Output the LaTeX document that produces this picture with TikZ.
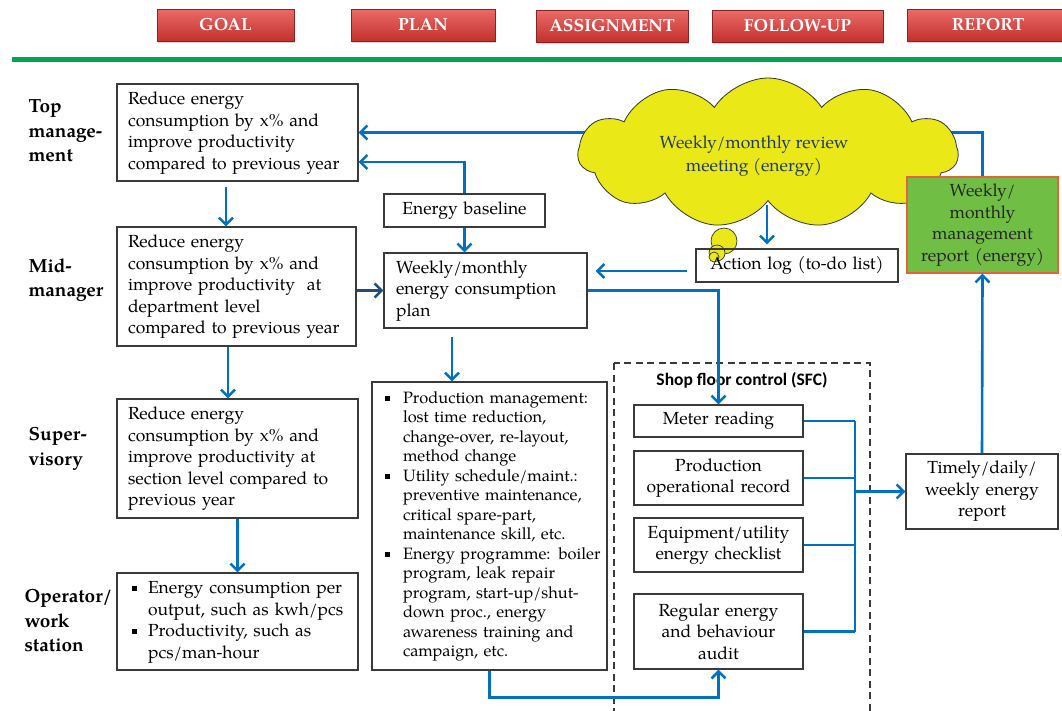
\documentclass[tikz,border=0pt]{standalone}
\usepackage{fontspec}
\setmainfont{TeX Gyre Pagella}
\newfontfamily\sfcfont{Carlito}
\usetikzlibrary{arrows.meta,shapes.symbols,shadows,backgrounds}

\definecolor{flowblue}{HTML}{0070C0}
\definecolor{navyflow}{HTML}{1F4E79}
\definecolor{btnred}{HTML}{E53935}
\definecolor{rulegreen}{HTML}{00A650}
\definecolor{cloudyellow}{HTML}{EBE817}
\definecolor{reportgreen}{HTML}{70BF44}
\definecolor{reportedge}{HTML}{E8603C}
\definecolor{cloudtext}{HTML}{1F3A68}
\definecolor{boxline}{HTML}{3A3A3A}

\newcommand{\bodyfs}{\fontsize{17.5}{21.5}\selectfont}
\newcommand{\smallfs}{\fontsize{16.4}{19.5}\selectfont}
\newcommand{\lblfs}{\fontsize{19}{24.5}\selectfont\bfseries}
\newcommand{\lines}[1]{\noindent\begin{tabular}{@{}l@{}}#1\end{tabular}}
\newcommand{\blines}[1]{\noindent\begin{tabular}{@{}l@{}l@{}}#1\end{tabular}}
\newcommand{\sqb}[1][16pt]{\makebox[#1][l]{\raisebox{2.5pt}{\rule{5pt}{5pt}}}}

\tikzset{
  box/.style={draw=boxline, line width=1.1pt, inner xsep=0pt, inner ysep=2pt, font=\bodyfs},
  leftbox/.style={box, align=left},
  midbox/.style={box, align=center},
  lvl/.style={anchor=west, align=left, font=\lblfs},
  btn/.style={minimum height=32pt, font=\fontsize{17.5}{19}\selectfont\bfseries, text=white,
    top color=btnred!75!white, bottom color=btnred!85!black, draw=btnred!60!black, line width=0.6pt,
    drop shadow={shadow xshift=1pt, shadow yshift=-2pt, opacity=0.35}},
  flow/.style={draw=flowblue, line width=2.6pt, -{Straight Barb[length=7pt,width=14pt]}},
  link/.style={draw=flowblue, line width=2.6pt},
}

\begin{document}
\begin{tikzpicture}[x=1pt,y=-1pt]
  \useasboundingbox (0,0) rectangle (1062,710);
  \node[btn, minimum width=137pt] (goalbtn) at (225.5,25) {GOAL};
  \node[btn, minimum width=144pt] (planbtn) at (423,25) {PLAN};
  \node[btn, minimum width=152pt] (assignbtn) at (612,26) {ASSIGNMENT};
  \node[btn, minimum width=171pt] (followbtn) at (797.5,26) {FOLLOW-UP};
  \node[btn, minimum width=162pt] (reportbtn) at (988,25) {REPORT};
  \draw[rulegreen, line width=4.5pt] (12,59.5) -- (1062,59.5);

  \node[lvl] (toplbl) at (25,131) {Top\\manage-\\ment};
  \node[lvl] (midlbl) at (25,280) {Mid-\\manager};
  \node[lvl] (suplbl) at (25,449) {Super-\\visory};
  \node[lvl] (oplbl) at (21,621) {Operator/\\work\\station};

  \node[leftbox, minimum width=241pt, minimum height=97pt, text width=219pt] (topgoal) at (237.5,132.5)
    {\lines{Reduce energy\\consumption by x\% and\\improve productivity\\compared to previous year}};
  \node[leftbox, minimum width=239pt, minimum height=119pt, text width=217pt] (midgoal) at (236.5,286.5)
    {\lines{Reduce energy\\consumption by x\% and\\improve productivity~ at\\department level\\compared to previous year}};
  \node[leftbox, minimum width=241pt, minimum height=119pt, text width=219pt] (supgoal) at (237.5,458.5)
    {\lines{Reduce energy\\consumption by x\% and\\improve productivity at\\section level compared to\\previous year}};
  \node[leftbox, minimum width=241pt, minimum height=97pt, text width=211pt] (opbox) at (237.5,621.5)
    {\blines{\sqb & Energy consumption per\\ & output, such as kwh/pcs\\
             \sqb & Productivity, such as\\ & pcs/man-hour}};

  \node[midbox, minimum width=161pt, minimum height=33pt, text width=155pt] (baseline) at (464.5,210.5) {Energy baseline};
  \node[leftbox, minimum width=203pt, minimum height=75pt, text width=179pt] (plan) at (485.5,290.5)
    {\lines{Weekly/monthly\\energy consumption\\plan}};
  \node[leftbox, font=\smallfs, minimum width=235pt, minimum height=288pt, text width=209pt] (bullets) at (489.5,526)
    {\blines{\sqb[18pt] & Production management:\\ & lost time reduction,\\ & change-over, re-layout,\\ & method change\\
             \sqb[18pt] & Utility schedule/maint.:\\ & preventive maintenance,\\ & critical spare-part,\\ & maintenance skill, etc.\\
             \sqb[18pt] & Energy programme: boiler\\ & program, leak repair\\ & program, start-up/shut-\\ & down proc., energy\\
             & awareness training and\\ & campaign, etc.}};

  \node[cloud, cloud puffs=11, cloud puff arc=115, aspect=2.5, cloud ignores aspect,
    minimum width=380pt, minimum height=150pt, draw=black!80, fill=cloudyellow, line width=0.8pt] (meeting) at (768,153) {};
  \node[font=\fontsize{17.5}{22.5}\selectfont, text=cloudtext, align=center] (meettxt) at (754,156) {Weekly/monthly review\\meeting (energy)};
  \draw[draw=black!80, fill=cloudyellow, line width=0.7pt] (724,241) circle[radius=13pt];
  \draw[draw=black!80, fill=cloudyellow, line width=0.7pt] (717,253) circle[radius=8pt];
  \draw[draw=black!80, fill=cloudyellow, line width=0.7pt] (714,257) circle[radius=5pt];
  \node[midbox, minimum width=202pt, minimum height=33pt, text width=196pt] (actlog) at (797,265.5) {Action log (to-do list)};
  \node[midbox, minimum width=151pt, minimum height=96pt, text width=145pt, fill=reportgreen, draw=reportedge,
    text=black!85] (mreport) at (982.5,225) {Weekly/\\monthly\\management\\report (energy)};

  \draw[boxline, line width=1.2pt, dash pattern=on 7pt off 4.5pt] (614,363) rectangle (870,725);
  \node[font=\sfcfont\fontsize{17.5}{19}\selectfont\bfseries] (sfctitle) at (742,380) {Shop floor control (SFC)};
  \node[midbox, minimum width=169pt, minimum height=32pt, text width=163pt] (meter) at (718.5,421) {Meter reading};
  \node[midbox, minimum width=169pt, minimum height=54pt, text width=163pt] (prodrec) at (718.5,478) {Production\\operational record};
  \node[midbox, minimum width=169pt, minimum height=54pt, text width=163pt] (equip) at (718.5,545) {Equipment/utility\\energy checklist};
  \node[midbox, minimum width=169pt, minimum height=75pt, text width=163pt] (audit) at (718.5,631.5) {Regular energy\\and behaviour\\audit};
  \node[midbox, minimum width=152pt, minimum height=75pt, text width=146pt] (timely) at (982,491.5) {Timely/daily/\\weekly energy\\report};

  \coordinate (mtail) at (767,205);
  \coordinate (ptail) at (452,337);
  \coordinate (bus) at (855,491.5);

  \begin{scope}[on background layer]
    \draw[flow] (meeting.center |- topgoal.east) -- (topgoal.east);
    \draw[link] (meeting.center |- topgoal.east) -| (mreport.north);
  \end{scope}
  \draw[flow, shorten <=5pt] ([xshift=-11.5pt]topgoal.south) -- ([xshift=-11.5pt]topgoal.south |- midgoal.north);
  \draw[flow] ([xshift=-8.5pt]midgoal.south) -- ([xshift=-8.5pt]midgoal.south |- supgoal.north);
  \draw[flow] (supgoal.south) -- (opbox.north);
  \draw[flow] (baseline.north) |- ([yshift=-29.5pt]topgoal.east);
  \draw[flow] (baseline.south) -- (baseline.south |- plan.north);
  \draw[flow, draw=navyflow] (plan.west -| midgoal.east) -- (plan.west);
  \draw[flow, shorten <=8pt, shorten >=8pt] ([yshift=-5.5pt]actlog.west) -- ([yshift=-5.5pt]actlog.west -| plan.east);
  \draw[flow, shorten >=4pt] (mtail) -- (mtail |- actlog.north);
  \draw[flow] (plan.east) -| (meter.north);
  \draw[flow] (ptail) -- (ptail |- bullets.north);
  \draw[flow] (bullets.south) -- ++(0,27) -| (audit.south);
  \draw[link] (meter.east) -- (meter.east -| bus);
  \draw[link] (prodrec.east) -- (prodrec.east -| bus);
  \draw[link] (equip.east) -- (equip.east -| bus);
  \draw[link] (audit.east) -- (audit.east -| bus);
  \draw[link] (meter.east -| bus) -- (audit.east -| bus);
  \draw[flow] (bus) -- (timely.west);
  \draw[flow] (timely.north) -- (mreport.south);
\end{tikzpicture}
\end{document}
